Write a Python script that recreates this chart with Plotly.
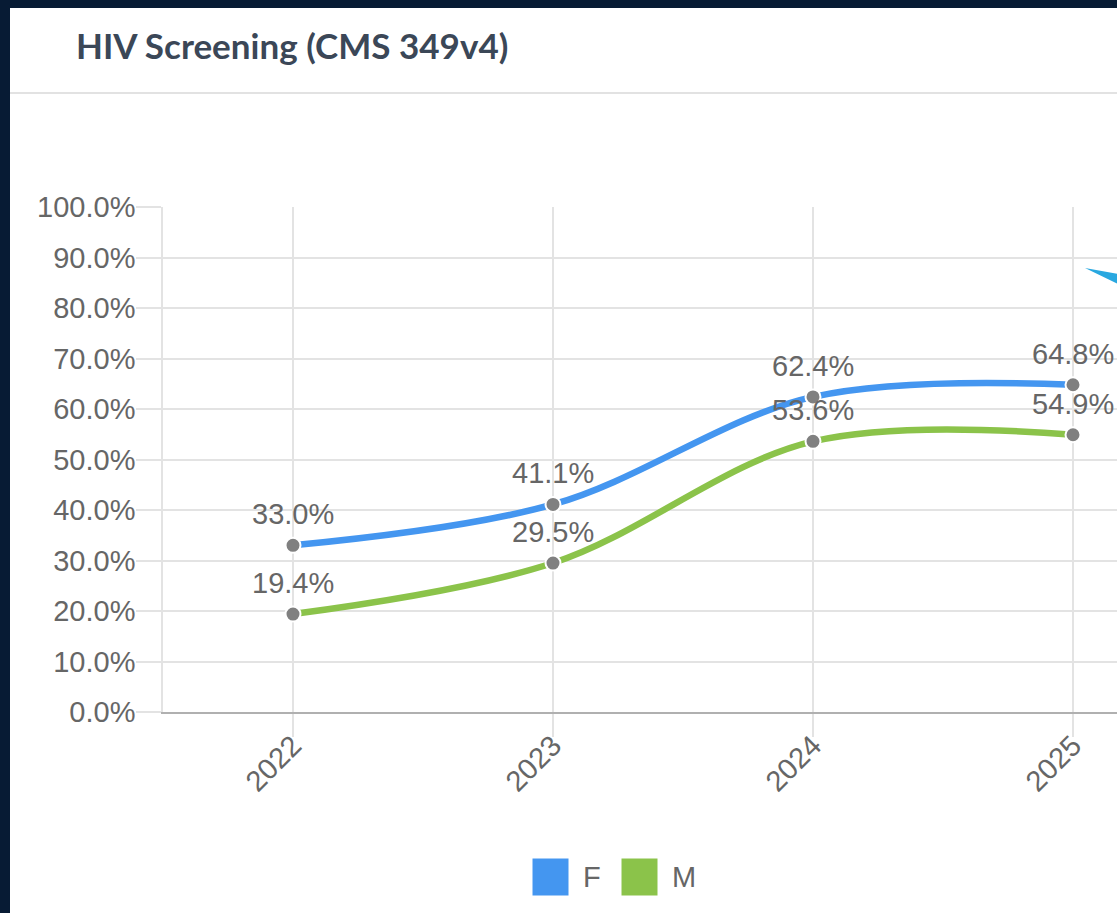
import plotly.graph_objects as go

# Screening rates by year and sex
years = ["2022", "2023", "2024", "2025"]
female = [33.0, 41.1, 62.4, 64.8]
male = [19.4, 29.5, 53.6, 54.9]
y_ticks = [0, 10, 20, 30, 40, 50, 60, 70, 80, 90, 100]
y_tick_labels = [f"{v:.1f}%" for v in y_ticks]

W, H = 1117, 913
L, R, T, B = 163, 0, 207, 201
PW, PH = W - L - R, H - T - B


def px(x):
    return (x - L) / PW


def py(y):
    return (H - B - y) / PH


BLUE = "#4496f0"
GREEN = "#8bc34a"
TXT = "#666666"
GRID = "#e3e3e3"
FONT = "Liberation Sans, Arial, sans-serif"
FS = 29

fig = go.Figure()
for name, vals, color in [("F", female, BLUE), ("M", male, GREEN)]:
    fig.add_trace(go.Scatter(
        x=years, y=vals, name=name, mode="lines+markers",
        line=dict(color=color, width=6.5, shape="spline", smoothing=1.0),
        marker=dict(color="#808080", size=15, line=dict(color="white", width=2)),
        cliponaxis=False, showlegend=False, hoverinfo="skip",
    ))

annotations = []
for vals in (female, male):
    for i, v in enumerate(vals):
        annotations.append(dict(
            x=i, y=v, text=f"{v:.1f}%", showarrow=False, yshift=31,
            font=dict(family=FONT, size=FS, color=TXT),
        ))

# Card header title
annotations.append(dict(
    xref="paper", yref="paper", x=px(74), y=py(45), xanchor="left", yanchor="middle",
    text="<b>HIV Screening (CMS 349v4)</b>", showarrow=False,
    font=dict(family="Lato, Open Sans, sans-serif", size=35, color="#3b4757"),
))

# Legend entries
legend_items = [("F", BLUE, 532), ("M", GREEN, 621)]
shapes = [
    # white card on dark page
    dict(type="rect", xref="paper", yref="paper", layer="below",
         x0=px(10), x1=px(W + 5), y0=py(8), y1=py(H + 5),
         fillcolor="white", line=dict(width=0)),
    # header separator
    dict(type="line", xref="paper", yref="paper", layer="below",
         x0=px(10), x1=px(W), y0=py(93), y1=py(93),
         line=dict(color="#e2e2e2", width=2)),
    # tooltip pointer at the right edge
    dict(type="path", xref="paper", yref="paper",
         path=f"M {px(1085)} {py(268)} L {px(1118)} {py(274)} L {px(1118)} {py(284)} Z",
         fillcolor="#29a8e0", line=dict(width=0)),
]
for name, color, x0 in legend_items:
    shapes.append(dict(type="rect", xref="paper", yref="paper",
                       x0=px(x0), x1=px(x0 + 37), y0=py(858), y1=py(896),
                       fillcolor=color, line=dict(color="white", width=1)))
    annotations.append(dict(
        xref="paper", yref="paper", x=px(x0 + 49), y=py(877), xanchor="left", yanchor="middle",
        text=name, showarrow=False, font=dict(family=FONT, size=FS, color=TXT),
    ))

fig.update_layout(
    width=W, height=H,
    margin=dict(l=L, r=R, t=T, b=B, pad=0),
    paper_bgcolor="#071b34", plot_bgcolor="rgba(0,0,0,0)",
    font=dict(family=FONT, size=FS, color=TXT),
    shapes=shapes, annotations=annotations,
    xaxis=dict(
        type="category", range=[-0.5, -0.5 + PW / 260], tickangle=-45,
        showgrid=True, gridcolor=GRID, gridwidth=1.5,
        ticks="outside", ticklen=23, tickcolor=GRID, tickwidth=1.5,
        ticklabelstandoff=-20,
        showline=True, linecolor="#b0b0b0", linewidth=2,
        tickfont=dict(family=FONT, size=FS, color=TXT),
    ),
    yaxis=dict(
        range=[0, 100], tickvals=y_ticks, ticktext=y_tick_labels,
        showgrid=True, gridcolor=GRID, gridwidth=1.5, zeroline=False,
        ticks="outside", ticklen=25, tickcolor=GRID, tickwidth=1.5,
        ticklabelstandoff=-5,
        showline=True, linecolor=GRID, linewidth=1.5,
        tickfont=dict(family=FONT, size=FS, color=TXT),
    ),
)

fig.write_html("out.html")
